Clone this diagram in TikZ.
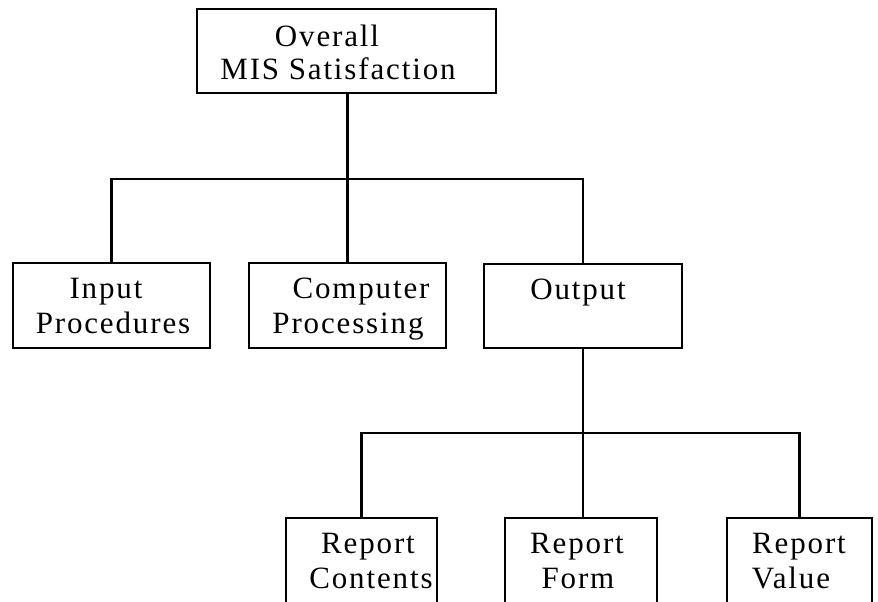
\documentclass[tikz,border=0pt]{standalone}
\usepackage{fontspec}
\setmainfont{Liberation Serif}[LetterSpace=6]
\begin{document}
\begin{tikzpicture}[x=1pt,y=-1pt,
  box/.style={draw, line width=2.4pt, rectangle, inner sep=0pt, outer sep=0pt},
  conn/.style={line width=2.4pt},
  lbl/.style={anchor=base, inner sep=0pt, font=\fontsize{31}{35}\selectfont}]
\useasboundingbox (0,0) rectangle (878,602);
\clip (0,0) rectangle (878,602);
% boxes
\node[box, minimum width=299, minimum height=84] (top) at (346.5,51) {};
\node[box, minimum width=197, minimum height=85] (inp) at (111.5,305.5) {};
\node[box, minimum width=197, minimum height=85] (comp) at (347.5,305.5) {};
\node[box, minimum width=198, minimum height=84] (out) at (583,306) {};
\node[box, minimum width=151, minimum height=92] (rc) at (361.5,564) {};
\node[box, minimum width=152, minimum height=92] (rf) at (581,564) {};
\node[box, minimum width=145, minimum height=92] (rv) at (799.5,564) {};
% texts
\node[lbl] (t1) at (327,47) {Overall};
\node[lbl] (t2) at (338,80) {MIS Satisfaction};
\node[lbl] (t3) at (106,298) {Input};
\node[lbl] (t4) at (113,333) {Procedures};
\node[lbl] (t5) at (361,298) {Computer};
\node[lbl] (t6) at (348,333) {Processing};
\node[lbl] (t7) at (578,299) {Output};
\node[lbl] (t8) at (368,553) {Report};
\node[lbl] (t9) at (371,588) {Contents};
\node[lbl] (t10) at (577,553) {Report};
\node[lbl] (t11) at (578,588) {Form};
\node[lbl] (t12) at (799,553) {Report};
\node[lbl] (t13) at (791,588) {Value};
% buses
\coordinate (bus1) at (0,179);
\coordinate (bus2) at (0,433);
% connectors
\draw[conn] (comp.north |- top.south) -- (comp.north);
\draw[conn] (inp.north) |- (bus1 -| out.north) -- (out.north);
\draw[conn] (out.south) -- (out.south |- rf.north);
\draw[conn] (rc.north) |- (bus2 -| rv.north) -- (rv.north);
\end{tikzpicture}
\end{document}
